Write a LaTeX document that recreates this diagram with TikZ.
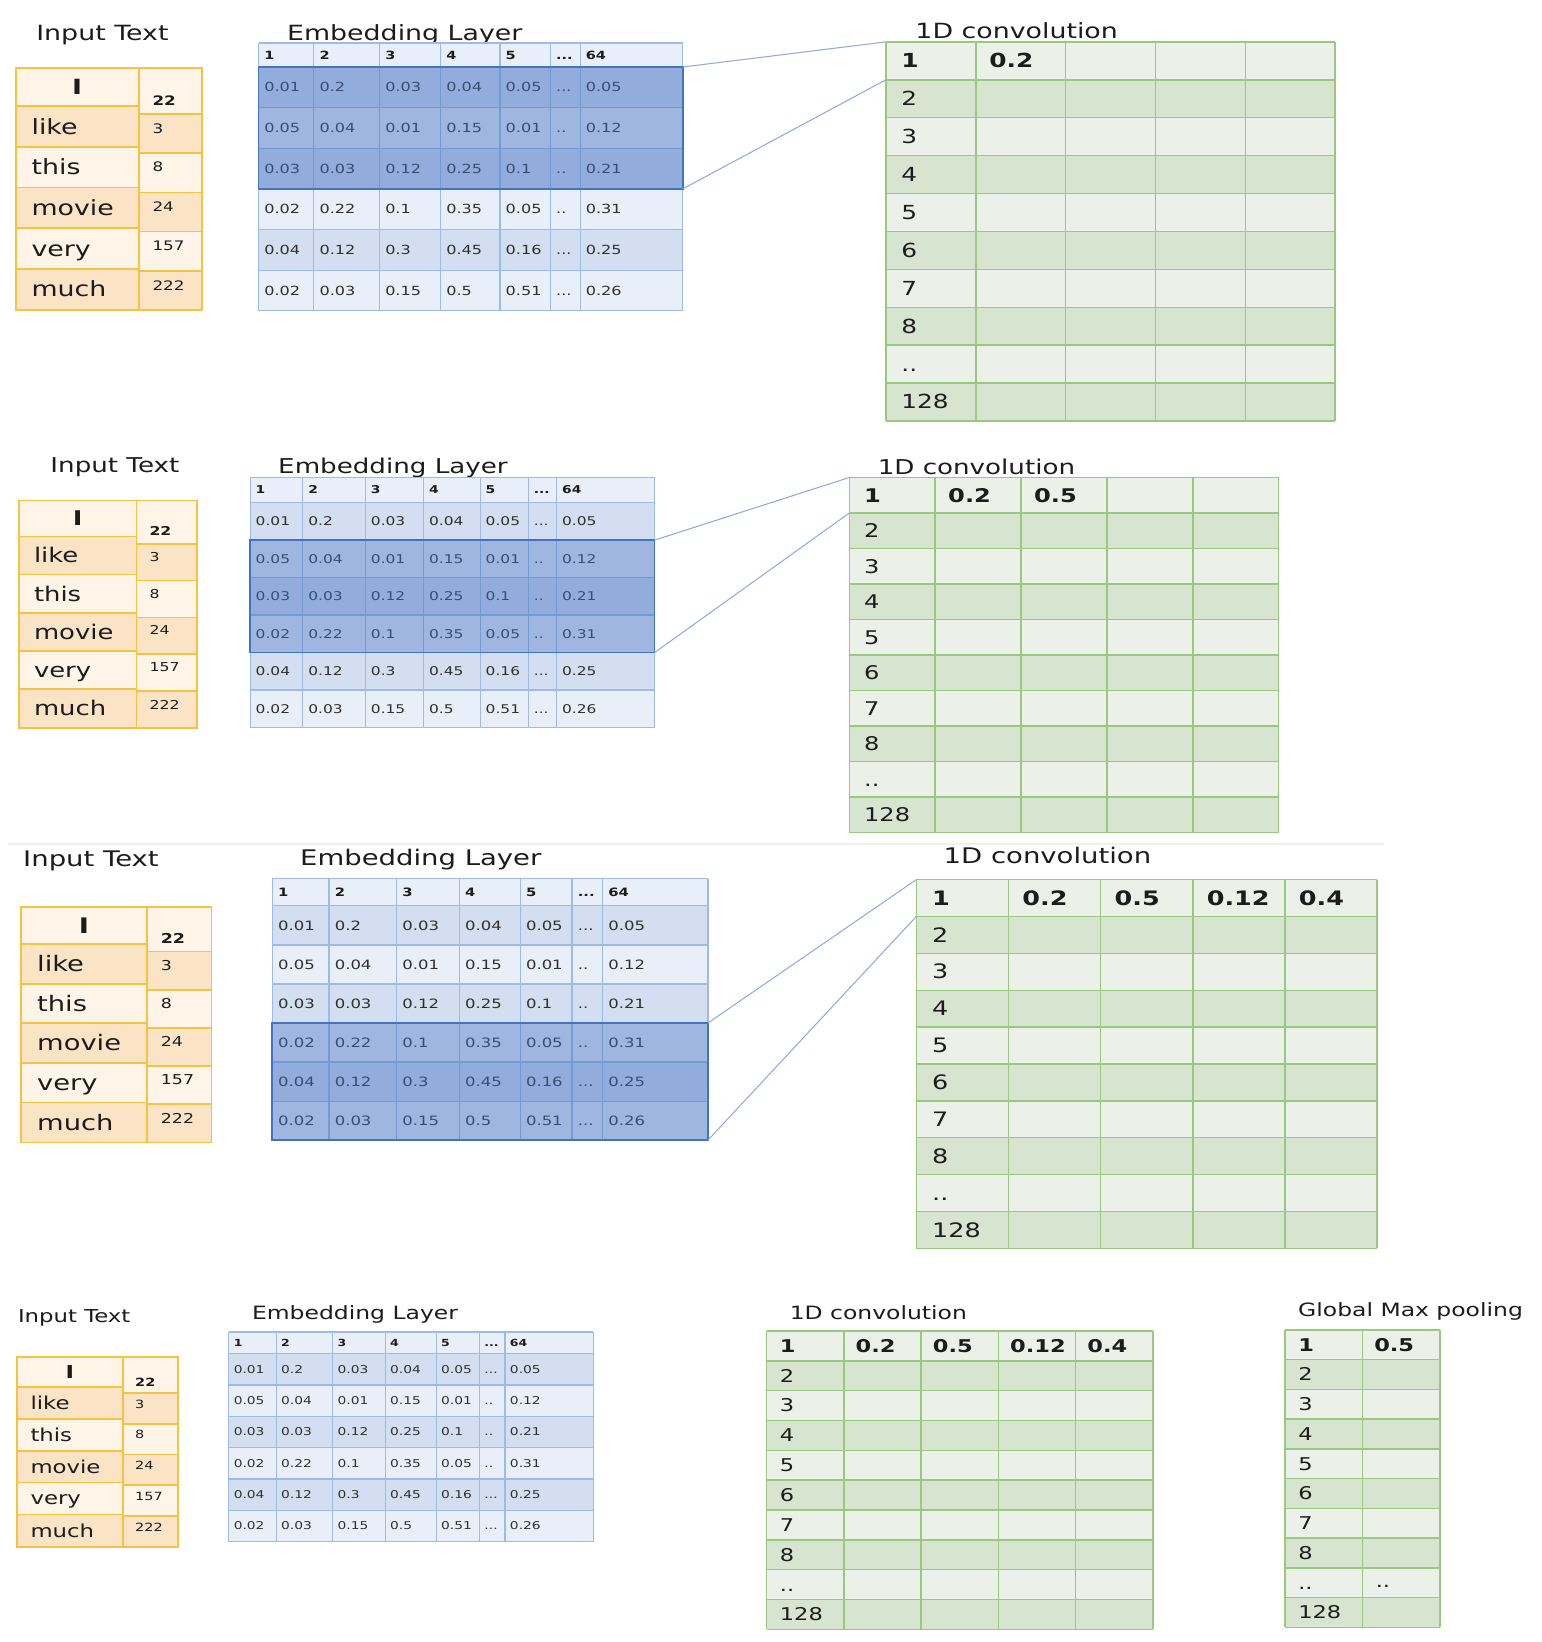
\documentclass[tikz,border=0pt]{standalone}
\usepackage{fontspec}
\setmainfont{DejaVu Sans}[FakeStretch=1.28]

\definecolor{ink}{HTML}{1C1C1C}
\definecolor{inBorder}{HTML}{F5C342}
\definecolor{inLite}{HTML}{FEF4E8}
\definecolor{inDark}{HTML}{FBE3C6}
\definecolor{embLine}{HTML}{9CBBE6}
\definecolor{embLite}{HTML}{E9EFF8}
\definecolor{embDark}{HTML}{D3DEF0}
\definecolor{embHi}{HTML}{4472C4}
\definecolor{embText}{HTML}{303030}
\definecolor{cvLine}{HTML}{98C97F}
\definecolor{cvLite}{HTML}{EBF1E8}
\definecolor{cvDark}{HTML}{D7E4D0}
\definecolor{linkCol}{HTML}{8FAADC}

\newcommand\tdots{...}
\newcommand\twodot{..}
\newcommand\fsz[1]{\fontsize{#1}{#1}\selectfont}

\tikzset{
  title/.style={anchor=base west, text=ink, inner sep=0pt},
  cell/.style={anchor=base west, inner sep=0pt},
  inframe/.style={draw=inBorder, line width=1.6},
  embgrid/.style={draw=embLine, line width=1.2},
  cvgrid/.style={draw=cvLine, line width=1.4},
  linkline/.style={draw=linkCol, line width=1},
  hifill/.style={fill=embHi, fill opacity=0.45},
  hiframe/.style={draw=embHi, line width=1.6},
}

% word / index table: name, left, top, width, height, word size, number size
\newcommand\inputtable[7]{%
  \pgfmathsetmacro\ixa{#2}%
  \pgfmathsetmacro\ixb{#2+0.66*#4}%
  \pgfmathsetmacro\ixc{#2+#4}%
  \foreach \fa/\fb/\cc in {0/0.158/inLite,0.158/0.326/inDark,0.326/0.494/inLite,0.494/0.662/inDark,0.662/0.830/inLite,0.830/1/inDark}
    {\path[fill=\cc] (\ixa,#3+\fa*#5) rectangle (\ixb,#3+\fb*#5);}
  \foreach \fa/\fb/\cc in {0/0.19/inLite,0.19/0.352/inDark,0.352/0.514/inLite,0.514/0.676/inDark,0.676/0.838/inLite,0.838/1/inDark}
    {\path[fill=\cc] (\ixb,#3+\fa*#5) rectangle (\ixc,#3+\fb*#5);}
  \foreach \fa/\fb in {0/0.158,0.158/0.326,0.326/0.494,0.494/0.662,0.662/0.830,0.830/1}
    {\draw[inframe] (\ixa,#3+\fa*#5) rectangle (\ixb,#3+\fb*#5);}
  \foreach \fa/\fb in {0/0.19,0.19/0.352,0.352/0.514,0.514/0.676,0.676/0.838,0.838/1}
    {\draw[inframe] (\ixb,#3+\fa*#5) rectangle (\ixc,#3+\fb*#5);}
  \node[inner sep=0pt, anchor=base, font=\fsz{#6}\bfseries, text=ink] (#1-w1)
    at ({(\ixa+\ixb)/2}, {#3+0.079*#5+0.36*#6}) {I};
  \foreach \w/\f [count=\i from 2] in {like/0.242,this/0.41,movie/0.578,very/0.746,much/0.915}
    {\node[cell, font=\fsz{#6}, text=ink] (#1-w\i) at ({\ixa+0.084*#4}, {#3+\f*#5+0.36*#6}) {\w};}
  \node[cell, font=\fsz{#7}\bfseries, text=ink] (#1-n1) at ({\ixb+0.073*#4}, {#3+0.134*#5+0.36*#7}) {22};
  \foreach \n/\f [count=\i from 2] in {3/0.249,8/0.41,24/0.572,157/0.734,222/0.9}
    {\node[cell, font=\fsz{#7}, text=ink] (#1-n\i) at ({\ixb+0.073*#4}, {#3+\f*#5+0.36*#7}) {\n};}
}

% embedding matrix: name, left, top, width, header height, row height, value size, header size
\newcommand\embtable[8]{%
  \pgfmathsetmacro\eybot{#3+#5+6*#6}%
  \path[fill=embLite] (#2,#3) rectangle (#2+#4,#3+#5);
  \foreach \k in {1,...,6}{
    \pgfmathsetmacro\ya{#3+#5+(\k-1)*#6}
    \pgfmathsetmacro\yb{#3+#5+\k*#6}
    \ifodd\k \def\rowcol{embDark}\else\def\rowcol{embLite}\fi
    \path[fill=\rowcol] (#2,\ya) rectangle (#2+#4,\yb);
  }
  \foreach \f in {0,0.13,0.285,0.429,0.569,0.688,0.758,1}
    {\draw[embgrid] ({#2+\f*#4},#3) -- ({#2+\f*#4},\eybot);}
  \foreach \k in {0,1,2,3,4,5,6,7}{
    \pgfmathsetmacro\yk{\k==0 ? #3 : #3+#5+(\k-1)*#6}
    \draw[embgrid] (#2,\yk) -- ({#2+#4},\yk);
    \coordinate (#1-L\k) at (#2,\yk);
    \coordinate (#1-R\k) at ({#2+#4},\yk);
  }
  \foreach \v [count=\j from 0] in {1,2,3,4,5,\tdots,64}{
    \pgfmathsetmacro\fx{{0,0.13,0.285,0.429,0.569,0.688,0.758}[\j]}
    \node[cell, font=\fsz{#8}\bfseries, text=ink] (#1-h\j) at ({#2+\fx*#4+0.013*#4}, {#3+#5/2+0.36*#8}) {\v};
  }
  \foreach \row [count=\k] in {%
    {0.01,0.2,0.03,0.04,0.05,\tdots,0.05},
    {0.05,0.04,0.01,0.15,0.01,\twodot,0.12},
    {0.03,0.03,0.12,0.25,0.1,\twodot,0.21},
    {0.02,0.22,0.1,0.35,0.05,\twodot,0.31},
    {0.04,0.12,0.3,0.45,0.16,\tdots,0.25},
    {0.02,0.03,0.15,0.5,0.51,\tdots,0.26}}{
    \foreach \v [count=\j from 0] in \row {
      \pgfmathsetmacro\fx{{0,0.13,0.285,0.429,0.569,0.688,0.758}[\j]}
      \pgfmathsetmacro\fy{#3+#5+(\k-0.5)*#6+0.36*#7}
      \node[cell, font=\fsz{#7}, text=embText] (#1-v\k-\j)
        at ({#2+\fx*#4+0.013*#4}, \fy) {\v};
    }
  }
}

% feature map grid: name, left, top, column width, row height, columns, text size, first-row values
\newcommand\convtable[8]{%
  \foreach \r in {1,...,10}{
    \ifodd\r \def\rowcol{cvLite}\else\def\rowcol{cvDark}\fi
    \path[fill=\rowcol] (#2,{#3+\r*#5-#5}) rectangle ({#2+#6*#4},{#3+\r*#5});
  }
  \foreach \q in {0,...,#6}{\draw[cvgrid] ({#2+\q*#4},#3) -- ({#2+\q*#4},{#3+10*#5});}
  \foreach \r in {0,...,10}{
    \draw[cvgrid] (#2,{#3+\r*#5}) -- ({#2+#6*#4},{#3+\r*#5});
    \coordinate (#1-L\r) at (#2,{#3+\r*#5});
  }
  \foreach \t [count=\r] in {\textbf{1},2,3,4,5,6,7,8,\twodot,128}{
    \node[cell, font=\fsz{#7}, text=ink] (#1-r\r) at ({#2+0.17*#4}, {#3+\r*#5-0.5*#5+0.36*#7}) {\t};
  }
  \foreach \t [count=\q] in {#8}{
    \node[cell, font=\fsz{#7}\bfseries, text=ink] (#1-t\q) at ({#2+\q*#4+0.15*#4}, {#3+0.5*#5+0.36*#7}) {\t};
  }
}

\begin{document}
\begin{tikzpicture}[x=1pt,y=-1pt]
\fill[white] (0,0) rectangle (1472,1568);
\useasboundingbox (0,0) rectangle (1472,1568);

% ---------- step 1: first window ----------
\node[title, font=\fsz{20}] (t1in) at (34.5,38.5) {Input Text};
\node[title, font=\fsz{20}] (t1emb) at (274,38.5) {Embedding Layer};
\node[title, font=\fsz{20}] (t1cv) at (874,36.5) {1D convolution};
\inputtable{i1}{15}{65}{178}{231}{20}{12.5}
\embtable{e1}{247}{41}{405}{23}{38.8}{12}{10.8}
\fill[hifill] (e1-L1) rectangle (e1-R4);
\draw[hiframe] (e1-L1) rectangle (e1-R4);
\convtable{c1}{846}{40}{85.8}{36.2}{5}{18.5}{0.2}
\draw[linkline] (e1-R1) -- (c1-L0);
\draw[linkline] (e1-R4) -- (c1-L1);

% ---------- step 2: second window ----------
\node[title, font=\fsz{19.5}] (t2in) at (48,451.5) {Input Text};
\node[title, font=\fsz{19.5}] (t2emb) at (265.5,452.5) {Embedding Layer};
\node[title, font=\fsz{19.5}] (t2cv) at (838,453) {1D convolution};
\inputtable{i2}{18}{478}{170}{217}{19.3}{11.7}
\embtable{e2}{239}{456}{386}{24}{35.8}{11.5}{10.3}
\fill[hifill] (e2-L2) rectangle (e2-R5);
\draw[hiframe] (e2-L2) rectangle (e2-R5);
\convtable{c2}{811}{456}{82}{33.9}{5}{18}{0.2,0.5}
\draw[linkline] (e2-R2) -- (c2-L0);
\draw[linkline] (e2-R5) -- (c2-L1);

% faint rule between the second and third steps
\draw[gray!12, line width=2] (8,806) -- (1322,806);

% ---------- step 3: last window ----------
\node[title, font=\fsz{20.5}] (t3in) at (22,827.5) {Input Text};
\node[title, font=\fsz{20.5}] (t3emb) at (286.5,826.5) {Embedding Layer};
\node[title, font=\fsz{20.5}] (t3cv) at (901,825) {1D convolution};
\inputtable{i3}{20}{866}{182}{225}{20.4}{13}
\embtable{e3}{260}{839}{416}{26}{37.3}{12.3}{11}
\fill[hifill] (e3-L4) rectangle (e3-R7);
\draw[hiframe] (e3-L4) rectangle (e3-R7);
\convtable{c3}{875}{840}{88}{35.2}{5}{19}{0.2,0.5,0.12,0.4}
\draw[linkline] (e3-R4) -- (c3-L0);
\draw[linkline] (e3-R7) -- (c3-L1);

% ---------- step 4: pooling ----------
\node[title, font=\fsz{17}] (t4in) at (17,1262.5) {Input Text};
\node[title, font=\fsz{17.5}] (t4emb) at (240.5,1260) {Embedding Layer};
\node[title, font=\fsz{17.5}] (t4cv) at (754,1260) {1D convolution};
\node[title, font=\fsz{17.5}] (t4gmp) at (1239.5,1257) {Global Max pooling};
\inputtable{i4}{16}{1296}{154}{181}{17}{10.8}
\embtable{e4}{218.5}{1272}{348}{20.5}{29.95}{10.3}{9.3}
\convtable{c4}{732}{1271}{73.8}{28.5}{5}{16.8}{0.2,0.5,0.12,0.4}
\convtable{g4}{1227}{1270}{74}{28.4}{2}{16.8}{0.5}
\node[cell, font=\fsz{16.8}, text=ink] (g4-dots) at (1313.6,1516.4) {..};
\end{tikzpicture}
\end{document}
